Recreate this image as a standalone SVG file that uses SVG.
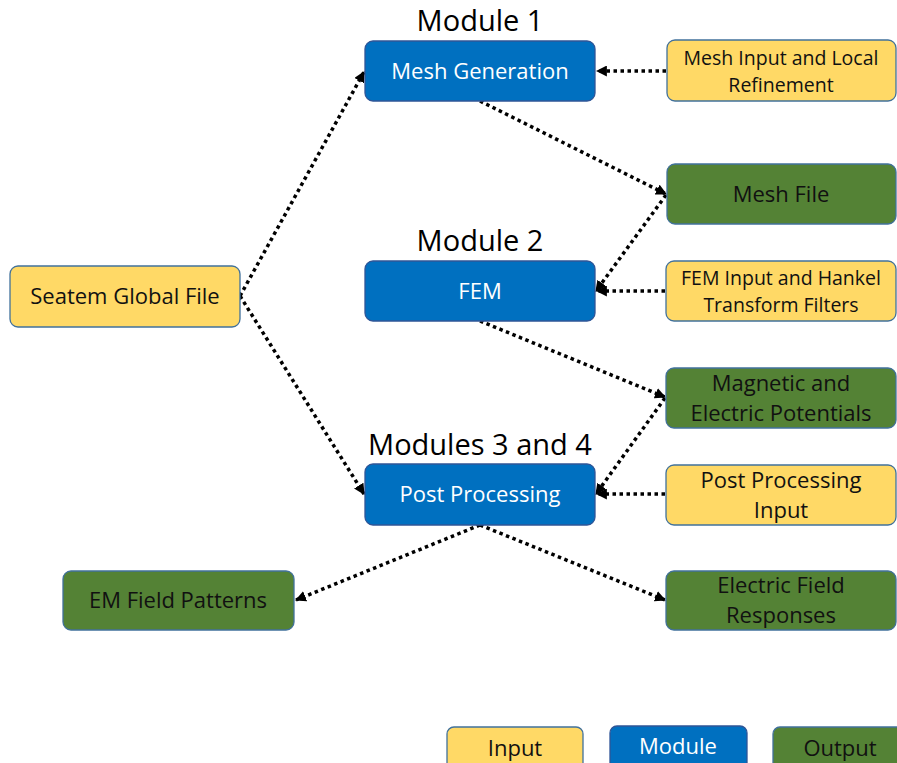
<svg xmlns="http://www.w3.org/2000/svg" width="897" height="763" viewBox="0 0 897 763">
<defs>
<marker id="ah" viewBox="0 0 10 10" refX="9" refY="5" markerWidth="11" markerHeight="11" markerUnits="userSpaceOnUse" orient="auto">
<path d="M0,0 L10,5 L0,10 Z" fill="#000"/>
</marker>
<style>
.in{fill:#FFD966;stroke:#41719C;stroke-width:1.3}
.mod{fill:#0070C0;stroke:#2F5597;stroke-width:1.3}
.out{fill:#548235;stroke:#41719C;stroke-width:1.3}
text{font-family:"Open Sans","Noto Sans","Liberation Sans",sans-serif;text-anchor:middle}
.t{font-size:22px;fill:#111}
.tw{font-size:22px;fill:#fff}
.s{font-size:19.5px}
.h{font-size:29px;fill:#000}
.c{fill:none;stroke:#000;stroke-width:3.5;stroke-dasharray:3.5 3.5;marker-end:url(#ah)}
</style>
</defs>
<rect width="897" height="763" fill="#fff"/>
<g id="connectors">
<line class="c" x1="240" y1="296" x2="364" y2="72"/>
<line class="c" x1="240" y1="296" x2="364" y2="494"/>
<line class="c" x1="666" y1="71" x2="597" y2="71"/>
<line class="c" x1="480" y1="101" x2="666" y2="194"/>
<line class="c" x1="666" y1="195" x2="596" y2="291"/>
<line class="c" x1="665" y1="291" x2="597" y2="291"/>
<line class="c" x1="480" y1="321" x2="665" y2="397"/>
<line class="c" x1="665" y1="398" x2="596" y2="494"/>
<line class="c" x1="665" y1="494" x2="597" y2="494"/>
<line class="c" x1="480" y1="525" x2="296" y2="600"/>
<line class="c" x1="480" y1="525" x2="665" y2="600"/>
</g>
<g id="title1"><text class="h" x="480" y="31">Module 1</text></g>
<g id="title2"><text class="h" x="480" y="251">Module 2</text></g>
<g id="title3"><text class="h" x="480" y="455">Modules 3 and 4</text></g>
<g id="mesh-generation"><rect class="mod" x="365" y="41" width="230" height="60" rx="8"/><text class="tw" x="480" y="79">Mesh Generation</text></g>
<g id="fem"><rect class="mod" x="365" y="261" width="230" height="60" rx="8"/><text class="tw" x="480" y="299">FEM</text></g>
<g id="post-processing"><rect class="mod" x="365" y="464" width="230" height="61" rx="8"/><text class="tw" x="480" y="502">Post Processing</text></g>
<g id="seatem"><rect class="in" x="10" y="266" width="230" height="61" rx="8"/><text class="t" x="125" y="304">Seatem Global File</text></g>
<g id="mesh-input"><rect class="in" x="667" y="40" width="229" height="61" rx="8"/><text class="t s" x="781" y="65">Mesh Input and Local</text><text class="t s" x="781" y="92">Refinement</text></g>
<g id="mesh-file"><rect class="out" x="667" y="164" width="229" height="60" rx="8"/><text class="t" x="781" y="202">Mesh File</text></g>
<g id="fem-input"><rect class="in" x="666" y="261" width="230" height="60" rx="8"/><text class="t s" x="781" y="285">FEM Input and Hankel</text><text class="t s" x="781" y="312">Transform Filters</text></g>
<g id="potentials"><rect class="out" x="666" y="368" width="230" height="60" rx="8"/><text class="t" x="781" y="391">Magnetic and</text><text class="t" x="781" y="421">Electric Potentials</text></g>
<g id="pp-input"><rect class="in" x="666" y="465" width="230" height="60" rx="8"/><text class="t" x="781" y="488">Post Processing</text><text class="t" x="781" y="518">Input</text></g>
<g id="em-field"><rect class="out" x="63" y="571" width="231" height="59" rx="8"/><text class="t" x="178" y="608">EM Field Patterns</text></g>
<g id="ef-responses"><rect class="out" x="666" y="571" width="230" height="59" rx="8"/><text class="t" x="781" y="593">Electric Field</text><text class="t" x="781" y="623">Responses</text></g>
<g id="legend-input"><rect class="in" x="447" y="727" width="136" height="45" rx="7"/><text class="t" x="515" y="756">Input</text></g>
<g id="legend-module"><rect class="mod" x="610" y="726" width="137" height="45" rx="7"/><text class="tw" x="678" y="754">Module</text></g>
<g id="legend-output"><rect class="out" x="773" y="727" width="140" height="45" rx="7"/><text class="t" x="840" y="756">Output</text></g>
</svg>
